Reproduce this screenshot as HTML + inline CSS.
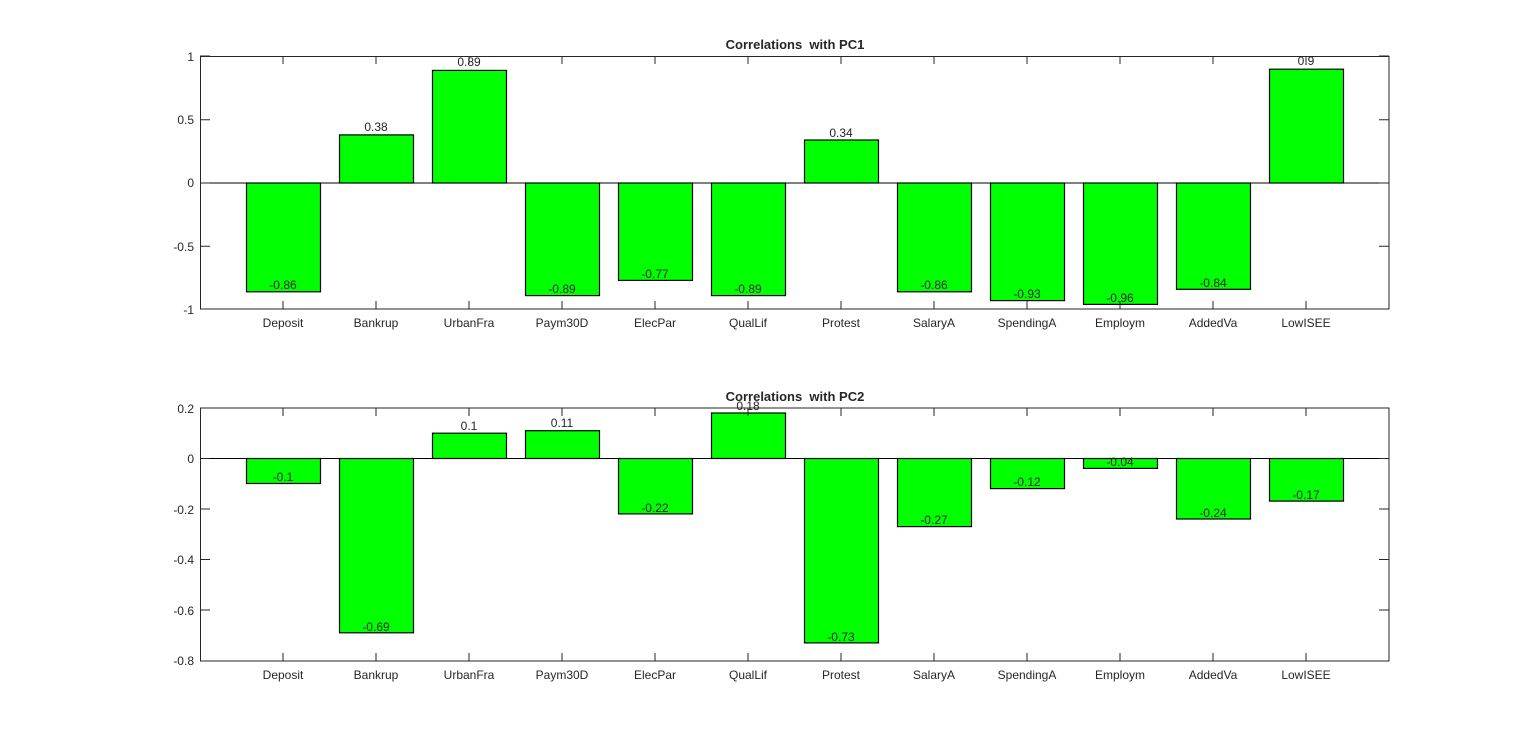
<!DOCTYPE html>
<html><head><meta charset="utf-8"><style>body{margin:0;background:#fff}svg{display:block}text{font-family:"Liberation Sans",Arial,sans-serif;fill:#262626}.t{white-space:pre}</style></head><body>
<svg width="1536" height="744" xmlns="http://www.w3.org/2000/svg">
<rect width="1536" height="744" fill="#fff"/>
<!-- TOP -->
<g stroke="#000" stroke-width="1.2" fill="#00ff00">
<rect x="246.5" y="183" width="74" height="108.8"/>
<rect x="339.5" y="134.9" width="74" height="48.1"/>
<rect x="432.5" y="70.4" width="74" height="112.6"/>
<rect x="525.5" y="183" width="74" height="112.6"/>
<rect x="618.5" y="183" width="74" height="97.4"/>
<rect x="711.5" y="183" width="74" height="112.6"/>
<rect x="804.5" y="140" width="74" height="43"/>
<rect x="897.5" y="183" width="74" height="108.8"/>
<rect x="990.5" y="183" width="74" height="117.6"/>
<rect x="1083.5" y="183" width="74" height="121.4"/>
<rect x="1176.5" y="183" width="74" height="106.3"/>
<rect x="1269.5" y="69.2" width="74" height="113.8"/>
</g>
<g stroke="#262626" stroke-width="1" fill="none">
<rect x="200.5" y="56.5" width="1188.5" height="252.5"/>
<line x1="200" y1="183" x2="1389" y2="183" stroke="#000"/>
<path d="M283 56v8M376 56v8M469 56v8M562 56v8M655 56v8M748 56v8M841 56v8M934 56v8M1027 56v8M1120 56v8M1213 56v8M1306 56v8
M283 309v-8M376 309v-8M469 309v-8M562 309v-8M655 309v-8M748 309v-8M841 309v-8M934 309v-8M1027 309v-8M1120 309v-8M1213 309v-8M1306 309v-8
M200 56h10M200 119.75h10M200 183h10M200 246.25h10M200 309h10M1389 56h-10M1389 119.75h-10M1389 183h-10M1389 246.25h-10M1389 309h-10"/>
</g>
<g font-size="12" text-anchor="end">
<text x="194" y="61">1</text><text x="194" y="124">0.5</text><text x="194" y="187">0</text><text x="194" y="251">-0.5</text><text x="194" y="314">-1</text>
</g>
<text class="t" x="795" y="49" font-size="13" font-weight="bold" text-anchor="middle" xml:space="preserve">Correlations  with PC1</text>
<g font-size="12" text-anchor="middle">
<text x="283" y="327">Deposit</text><text x="376" y="327">Bankrup</text><text x="469" y="327">UrbanFra</text><text x="562" y="327">Paym30D</text><text x="655" y="327">ElecPar</text><text x="748" y="327">QualLif</text><text x="841" y="327">Protest</text><text x="934" y="327">SalaryA</text><text x="1027" y="327">SpendingA</text><text x="1120" y="327">Employm</text><text x="1213" y="327">AddedVa</text><text x="1306" y="327">LowISEE</text>
<text x="283" y="289">-0.86</text><text x="376" y="131">0.38</text><text x="469" y="66">0.89</text><text x="562" y="293">-0.89</text><text x="655" y="278">-0.77</text><text x="748" y="293">-0.89</text><text x="841" y="137">0.34</text><text x="934" y="289">-0.86</text><text x="1027" y="298">-0.93</text><text x="1120" y="302">-0.96</text><text x="1213" y="287">-0.84</text><text x="1306" y="65">0.9</text>
</g>
<!-- BOTTOM -->
<g stroke="#000" stroke-width="1.2" fill="#00ff00">
<rect x="246.5" y="458.5" width="74" height="25"/>
<rect x="339.5" y="458.5" width="74" height="174.3"/>
<rect x="432.5" y="433.2" width="74" height="25.3"/>
<rect x="525.5" y="430.7" width="74" height="27.8"/>
<rect x="618.5" y="458.5" width="74" height="55.4"/>
<rect x="711.5" y="413" width="74" height="45.5"/>
<rect x="804.5" y="458.5" width="74" height="184.4"/>
<rect x="897.5" y="458.5" width="74" height="68.1"/>
<rect x="990.5" y="458.5" width="74" height="30.1"/>
<rect x="1083.5" y="458.5" width="74" height="9.9"/>
<rect x="1176.5" y="458.5" width="74" height="60.5"/>
<rect x="1269.5" y="458.5" width="74" height="42.6"/>
</g>
<g stroke="#262626" stroke-width="1" fill="none">
<rect x="200.5" y="408" width="1188.5" height="253"/>
<line x1="200" y1="458.5" x2="1389" y2="458.5" stroke="#000"/>
<path d="M283 408v8M376 408v8M469 408v8M562 408v8M655 408v8M748 408v8M841 408v8M934 408v8M1027 408v8M1120 408v8M1213 408v8M1306 408v8
M283 661v-8M376 661v-8M469 661v-8M562 661v-8M655 661v-8M748 661v-8M841 661v-8M934 661v-8M1027 661v-8M1120 661v-8M1213 661v-8M1306 661v-8
M200 408h10M200 458.5h10M200 509h10M200 559.5h10M200 610h10M200 661h10M1389 408h-10M1389 458.5h-10M1389 509h-10M1389 559.5h-10M1389 610h-10M1389 661h-10"/>
</g>
<g font-size="12" text-anchor="end">
<text x="194" y="413">0.2</text><text x="194" y="463">0</text><text x="194" y="514">-0.2</text><text x="194" y="564">-0.4</text><text x="194" y="615">-0.6</text><text x="194" y="665">-0.8</text>
</g>
<text class="t" x="795" y="401" font-size="13" font-weight="bold" text-anchor="middle" xml:space="preserve">Correlations  with PC2</text>
<g font-size="12" text-anchor="middle">
<text x="283" y="679">Deposit</text><text x="376" y="679">Bankrup</text><text x="469" y="679">UrbanFra</text><text x="562" y="679">Paym30D</text><text x="655" y="679">ElecPar</text><text x="748" y="679">QualLif</text><text x="841" y="679">Protest</text><text x="934" y="679">SalaryA</text><text x="1027" y="679">SpendingA</text><text x="1120" y="679">Employm</text><text x="1213" y="679">AddedVa</text><text x="1306" y="679">LowISEE</text>
<text x="283" y="481">-0.1</text><text x="376" y="631">-0.69</text><text x="469" y="430">0.1</text><text x="562" y="427">0.11</text><text x="655" y="512">-0.22</text><text x="748" y="410">0.18</text><text x="841" y="641">-0.73</text><text x="934" y="524">-0.27</text><text x="1027" y="486">-0.12</text><text x="1120" y="466">-0.04</text><text x="1213" y="517">-0.24</text><text x="1306" y="499">-0.17</text>
</g>
</svg>
</body></html>
